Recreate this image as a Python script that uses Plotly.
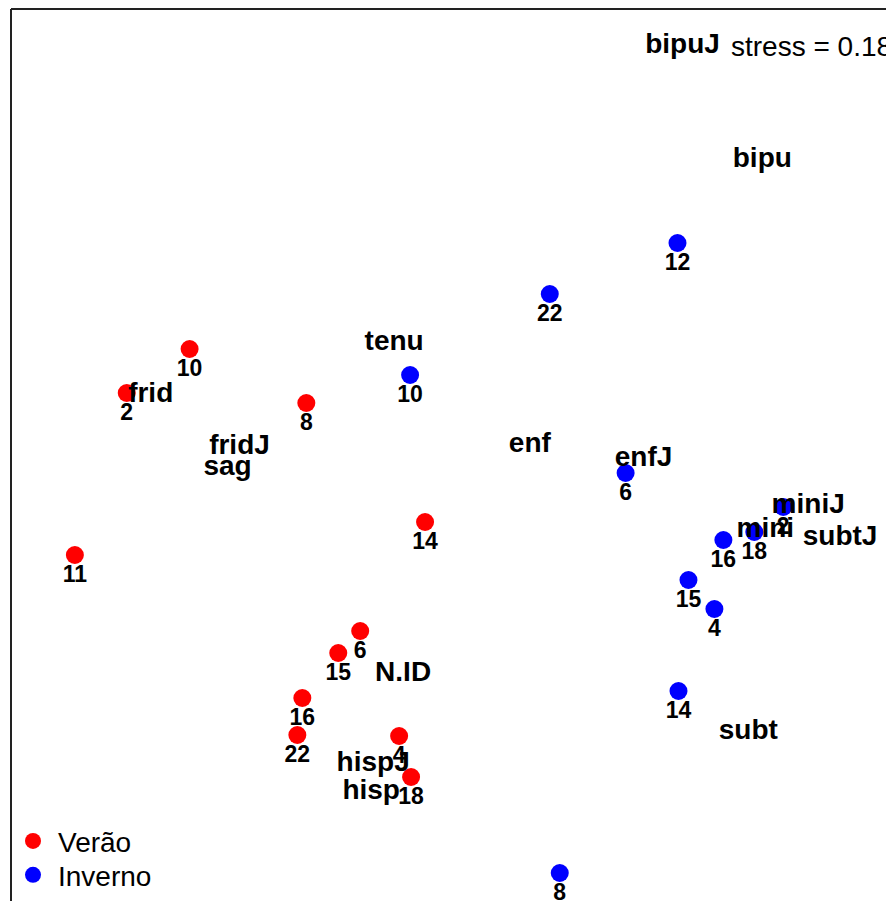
import plotly.graph_objects as go

# NMDS site scores
summer_ids = ["10", "2", "8", "11", "14", "6", "15", "16", "22", "4", "18"]
summer_x = [-0.655, -0.8125, -0.3625, -0.9425, -0.065, -0.2275, -0.2825, -0.3725, -0.385, -0.13, -0.10]
summer_y = [0.2525, 0.1425, 0.1175, -0.2625, -0.18, -0.4525, -0.5075, -0.62, -0.7125, -0.715, -0.8175]

winter_ids = ["12", "22", "10", "6", "2", "18", "16", "15", "4", "14", "8"]
winter_x = [0.5675, 0.2475, -0.1025, 0.4375, 0.8325, 0.76, 0.6825, 0.595, 0.66, 0.57, 0.2725]
winter_y = [0.5175, 0.39, 0.1875, -0.0575, -0.1425, -0.205, -0.225, -0.325, -0.3975, -0.6025, -1.0575]

# species scores
species = ["bipuJ", "bipu", "tenu", "frid", "fridJ", "sag", "enf", "enfJ",
           "miniJ", "mini", "subtJ", "N.ID", "subt", "hispJ", "hisp"]
species_x = [0.58, 0.78, -0.1425, -0.7525, -0.53, -0.56, 0.1975, 0.4825,
             0.895, 0.7875, 0.975, -0.12, 0.745, -0.195, -0.20]
species_y = [1.01, 0.725, 0.2675, 0.1375, 0.0075, -0.045, 0.0125, -0.0225,
             -0.14, -0.20, -0.22, -0.56, -0.705, -0.785, -0.855]

stress_value = 0.18

FONT = "Arial, Liberation Sans, sans-serif"

fig = go.Figure()

fig.add_trace(go.Scatter(x=summer_x, y=summer_y, mode="markers", name="Verão",
                         marker=dict(color="#ff0000", size=18), legend="legend"))
fig.add_trace(go.Scatter(x=winter_x, y=winter_y, mode="markers", name="Inverno",
                         marker=dict(color="#0000ff", size=18), legend="legend2"))

for xs, ys, ids in [(summer_x, summer_y, summer_ids), (winter_x, winter_y, winter_ids)]:
    fig.add_trace(go.Scatter(x=xs, y=ys, mode="markers+text", text=ids, textposition="bottom center",
                             marker=dict(size=14, color="rgba(0,0,0,0)"),
                             textfont=dict(family=FONT, size=23, color="black", weight="bold"),
                             showlegend=False, hoverinfo="skip"))

fig.add_trace(go.Scatter(x=species_x, y=species_y, mode="text", text=species,
                         textposition="middle center",
                         textfont=dict(family=FONT, size=28, color="black", weight="bold"),
                         showlegend=False, hoverinfo="skip"))

fig.add_annotation(x=0.6975, y=1.01, xref="x", yref="y", text=f"stress = {stress_value}",
                   showarrow=False, xanchor="left", yanchor="middle",
                   font=dict(family=FONT, size=28, color="black"))

fig.add_shape(type="line", xref="paper", yref="paper", x0=0, x1=0, y0=0, y1=1,
              line=dict(color="#222222", width=2))
fig.add_shape(type="line", xref="paper", yref="paper", x0=0, x1=1, y0=1, y1=1,
              line=dict(color="#222222", width=2))

legend_common = dict(xanchor="left", yanchor="middle", bgcolor="rgba(0,0,0,0)",
                     font=dict(family=FONT, size=28, color="black"), itemwidth=40)

fig.update_layout(
    width=886, height=893,
    margin=dict(l=1, r=0, t=1, b=0),
    paper_bgcolor="white", plot_bgcolor="white",
    xaxis=dict(range=[-1.1025, 1.11], showgrid=False, zeroline=False, showticklabels=False,
               ticks="", showline=False),
    yaxis=dict(range=[-1.1275, 1.1025], showgrid=False, zeroline=False, showticklabels=False,
               ticks="", showline=False),
    legend=dict(x=-0.0035, y=0.067, **legend_common),
    legend2=dict(x=-0.0035, y=0.029, **legend_common),
    showlegend=True,
)

fig.write_html("out.html")
